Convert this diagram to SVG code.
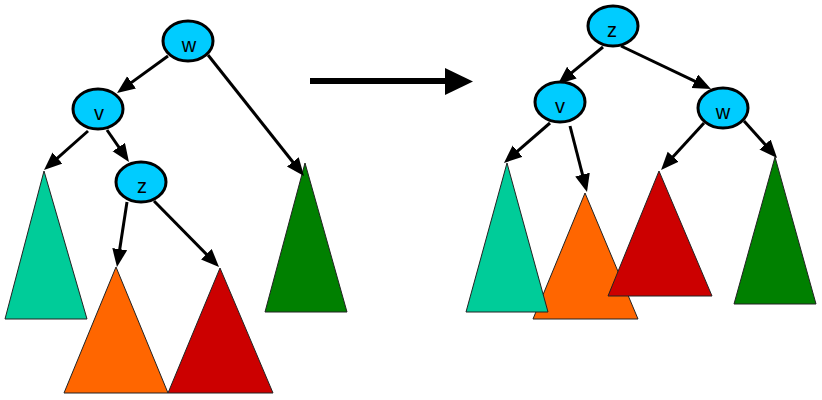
<svg xmlns="http://www.w3.org/2000/svg" width="822" height="400" viewBox="0 0 822 400">
  <defs>
    <marker id="head" markerUnits="userSpaceOnUse" markerWidth="19" markerHeight="16" refX="8" refY="7.5" orient="auto">
      <path d="M0,0 L18,7.5 L0,15 z" fill="#000"/>
    </marker>
    <style>
      .edge { stroke: #000; stroke-width: 3; fill: none; marker-end: url(#head); }
      .node ellipse { fill: #00CCFF; stroke: #000; stroke-width: 3; }
      .node text { font-family: "Liberation Sans", Arial, sans-serif; font-size: 20px; fill: #000; text-anchor: middle; }
      .tree { stroke: #222; stroke-width: 1; }
      .teal { fill: #00CC99; }
      .orange { fill: #FF6600; }
      .red { fill: #CC0000; }
      .green { fill: #008000; }
    </style>
  </defs>
  <rect width="822" height="400" fill="#fff"/>

  <!-- subtrees, before rotation -->
  <g id="left-subtrees">
    <polygon id="l-teal" class="tree teal" points="44,171 5,319 87,319"/>
    <polygon id="l-orange" class="tree orange" points="116,267 64,393 168,393"/>
    <polygon id="l-red" class="tree red" points="220,268 168,393 273,393"/>
    <polygon id="l-green" class="tree green" points="305,163 265,312 347,312"/>
  </g>

  <!-- subtrees, after rotation -->
  <g id="right-subtrees">
    <polygon id="r-orange" class="tree orange" points="585,193 533,319 638,319"/>
    <polygon id="r-teal" class="tree teal" points="507,163 466,312 548,312"/>
    <polygon id="r-red" class="tree red" points="659,171 608,296 712,296"/>
    <polygon id="r-green" class="tree green" points="775,157 734,304 816,304"/>
  </g>

  <!-- edges -->
  <g id="connectors">
    <line class="edge" x1="168" y1="56" x2="125.1" y2="87.1"/>
    <line class="edge" x1="208" y1="55" x2="297.8" y2="168.2"/>
    <line class="edge" x1="88" y1="131" x2="51.5" y2="163.4"/>
    <line class="edge" x1="107" y1="130" x2="123.3" y2="153.7"/>
    <line class="edge" x1="127" y1="202" x2="118.5" y2="257.1"/>
    <line class="edge" x1="154" y1="201" x2="212" y2="259.9"/>

    <line class="edge" x1="603" y1="47" x2="565.7" y2="77.7"/>
    <line class="edge" x1="621" y1="46" x2="702" y2="84.7"/>
    <line class="edge" x1="550" y1="123" x2="511.5" y2="156.4"/>
    <line class="edge" x1="570" y1="126" x2="584.5" y2="182.3"/>
    <line class="edge" x1="704" y1="123" x2="667.8" y2="162.6"/>
    <line class="edge" x1="744" y1="121" x2="770.4" y2="150.5"/>

    <!-- rotation arrow -->
    <line x1="310" y1="81" x2="447" y2="81" stroke="#000" stroke-width="6"/>
    <polygon points="445,68 473,81.5 445,95" fill="#000"/>
  </g>

  <!-- nodes, before rotation -->
  <g id="l-w" class="node"><ellipse cx="188" cy="41" rx="25" ry="20"/><text x="189" y="52">w</text></g>
  <g id="l-v" class="node"><ellipse cx="98" cy="109" rx="25" ry="20"/><text x="99" y="120">v</text></g>
  <g id="l-z" class="node"><ellipse cx="141" cy="182" rx="25" ry="20"/><text x="142" y="193">z</text></g>

  <!-- nodes, after rotation -->
  <g id="r-z" class="node"><ellipse cx="613" cy="26" rx="25" ry="20"/><text x="612" y="37">z</text></g>
  <g id="r-v" class="node"><ellipse cx="560" cy="102" rx="25" ry="20"/><text x="560" y="113">v</text></g>
  <g id="r-w" class="node"><ellipse cx="723" cy="108" rx="25" ry="20"/><text x="723" y="119">w</text></g>
</svg>
